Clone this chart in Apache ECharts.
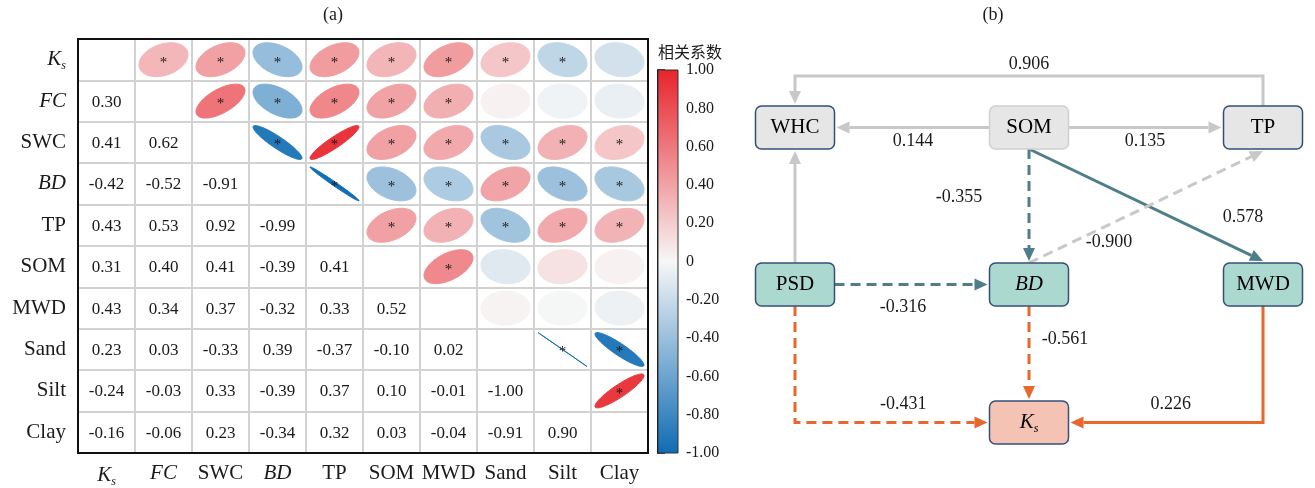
<!DOCTYPE html>
<html><head><meta charset="utf-8">
<script src="https://cdn.jsdelivr.net/npm/echarts@6/dist/echarts.min.js"></script>
<style>html,body{margin:0;padding:0;background:#fff}#c{width:1315px;height:488px}</style>
</head><body><div id="c"></div>
<script>
// ---------------- DATA ----------------
const variables = ['Ks','FC','SWC','BD','TP','SOM','MWD','Sand','Silt','Clay'];
// lower triangle correlation coefficients (row i, columns 0..i-1)
const corrLower = [
  [],
  [0.30],
  [0.41, 0.62],
  [-0.42, -0.52, -0.91],
  [0.43, 0.53, 0.92, -0.99],
  [0.31, 0.40, 0.41, -0.39, 0.41],
  [0.43, 0.34, 0.37, -0.32, 0.33, 0.52],
  [0.23, 0.03, -0.33, 0.39, -0.37, -0.10, 0.02],
  [-0.24, -0.03, 0.33, -0.39, 0.37, 0.10, -0.01, -1.00],
  [-0.16, -0.06, 0.23, -0.34, 0.32, 0.03, -0.04, -0.91, 0.90]
];
// significance flags (1 = marked with *)
const sigLower = [
  [],
  [1],
  [1, 1],
  [1, 1, 1],
  [1, 1, 1, 1],
  [1, 1, 1, 1, 1],
  [1, 1, 1, 1, 1, 1],
  [1, 0, 1, 1, 1, 0, 0],
  [1, 0, 1, 1, 1, 0, 0, 1],
  [0, 0, 1, 1, 1, 0, 0, 1, 1]
];
const colorbarTitle = '相关系数';
const panelTitles = ['(a)', '(b)'];

const pathNodes = ['WHC','SOM','TP','PSD','BD','MWD','Ks'];
const pathNodeGroup = {WHC:'water', SOM:'water', TP:'water', PSD:'struct', BD:'struct', MWD:'struct', Ks:'target'};
// [from, to, path coefficient]
const pathEdges = [
  ['TP','WHC', 0.906],
  ['SOM','WHC', 0.144],
  ['SOM','TP', 0.135],
  ['PSD','WHC', null],
  ['SOM','BD', -0.355],
  ['SOM','MWD', 0.578],
  ['BD','TP', -0.900],
  ['PSD','BD', -0.316],
  ['BD','Ks', -0.561],
  ['PSD','Ks', -0.431],
  ['MWD','Ks', 0.226]
];

// ---------------- LAYOUT / STYLE ----------------
const nodePos = {WHC:[0,0], SOM:[1,0], TP:[2,0], PSD:[0,1], BD:[1,1], MWD:[2,1], Ks:[1,1.88]};
const edgeRoute = {'TP>WHC':'over', 'PSD>Ks':'elbow', 'MWD>Ks':'elbow'};
const labelOffset = {
  'TP>WHC':[0,-12], 'SOM>WHC':[0,14], 'SOM>TP':[0,14], 'SOM>BD':[-70,-8],
  'SOM>MWD':[97,12], 'BD>TP':[-37,35], 'PSD>BD':[-8,23], 'BD>Ks':[36,-13],
  'PSD>Ks':[12,-18], 'MWD>Ks':[4,-18]
};
const groupStyle = {
  water: {fill:'#e6e6e6', stroke:'#34507a', edge:'#c8c8c8'},
  struct:{fill:'#acd9cf', stroke:'#34507a', edge:'#4e7e89'},
  target:{fill:'#f4c3b4', stroke:'#34507a', edge:'#e8672c'}
};
const nodeStrokeOverride = {SOM:'#d0d0d0'};
const colorScale = ['#0f6cb4', '#f7f7f7', '#e8232b'];

const SERIF = '"Liberation Serif","Times New Roman",serif';
const CJK = '"Noto Sans CJK SC",sans-serif';
const INK = '#1a1a1a';
const italicVars = {Ks:1, FC:1, BD:1};

function richLabel(name){
  if (name === 'Ks') return '{ki|K}{sub|s}';
  if (italicVars[name]) return '{it|' + name + '}';
  return '{n|' + name + '}';
}
function richStyles(size){
  return {
    n:{fontFamily:SERIF, fontSize:size, color:INK},
    it:{fontFamily:SERIF, fontSize:size, fontStyle:'italic', color:INK},
    ki:{fontFamily:SERIF, fontSize:size, fontStyle:'italic', color:INK},
    sub:{fontFamily:SERIF, fontSize:Math.round(size*0.55), fontStyle:'italic', color:INK, padding:[Math.round(size*0.6),0,0,0]}
  };
}

// build matrix series data
const ellipseData = [], valueData = [];
for (let i = 1; i < variables.length; i++) {
  for (let j = 0; j < i; j++) {
    valueData.push([j, i, corrLower[i][j]]);
    ellipseData.push([i, j, corrLower[i][j], sigLower[i][j]]);
  }
}

const chart = echarts.init(document.getElementById('c'), null, {renderer:'canvas'});

const HW = 39.5, HH = 21.5, GAP = 2, ARROW_L = 13, ARROW_W = 6;

function edgePoints(from, to, api){
  const a = api.coord(nodePos[from]), b = api.coord(nodePos[to]);
  const route = edgeRoute[from + '>' + to] || 'auto';
  let pts, labelSeg;
  if (route === 'over') {
    const yTop = a[1] - HH - 30;
    pts = [[a[0], a[1]-HH], [a[0], yTop], [b[0], yTop], [b[0], b[1]-HH-GAP]];
    labelSeg = 1;
  } else if (route === 'elbow') {
    const dir = b[0] > a[0] ? 1 : -1;
    pts = [[a[0], a[1]+HH], [a[0], b[1]], [b[0] - dir*(HW+GAP), b[1]]];
    labelSeg = 1;
  } else if (Math.abs(a[1]-b[1]) < 1) {
    const dir = b[0] > a[0] ? 1 : -1;
    pts = [[a[0]+dir*HW, a[1]], [b[0]-dir*(HW+GAP), b[1]]];
    labelSeg = 0;
  } else {
    const dir = b[1] > a[1] ? 1 : -1;
    pts = [[a[0], a[1]+dir*HH], [b[0], b[1]-dir*(HH+GAP)]];
    labelSeg = 0;
  }
  return {pts, labelSeg};
}

const option = {
  animation:false,
  backgroundColor:'#fff',
  graphic:[
    {type:'text', x:333, y:15, style:{text:panelTitles[0], fontFamily:SERIF, fontSize:18, fill:INK, align:'center', verticalAlign:'middle'}},
    {type:'text', x:993, y:15, style:{text:panelTitles[1], fontFamily:SERIF, fontSize:18, fill:INK, align:'center', verticalAlign:'middle'}},
    {type:'text', x:690, y:52, style:{text:colorbarTitle, fontFamily:CJK, fontSize:16, fill:INK, align:'center', verticalAlign:'middle'}}
  ],
  visualMap:{show:false, type:'continuous', min:-1, max:1, dimension:2, seriesIndex:0, inRange:{color:colorScale}},
  grid:[
    {left:78, top:39, width:570, height:414, outerBoundsMode:'none', containLabel:false},
    {left:658, top:70, width:20, height:383, outerBoundsMode:'none', containLabel:false},
    {left:795, top:127.5, width:468, height:295, outerBoundsMode:'none', containLabel:false}
  ],
  xAxis:[
    {gridIndex:0, type:'category', data:variables, position:'bottom',
     axisLine:{show:false}, axisTick:{show:false},
     splitLine:{show:true, interval:0, lineStyle:{color:'#d2d2d2', width:2}},
     axisLabel:{interval:0, margin:10, formatter:richLabel, rich:richStyles(21), hideOverlap:false}},
    {gridIndex:1, type:'value', min:0, max:1, show:false},
    {gridIndex:2, type:'value', min:0, max:2, show:false}
  ],
  yAxis:[
    {gridIndex:0, type:'category', data:variables, inverse:true,
     axisLine:{show:false}, axisTick:{show:false},
     splitLine:{show:true, interval:0, lineStyle:{color:'#d2d2d2', width:2}},
     axisLabel:{interval:0, margin:12, formatter:richLabel, rich:richStyles(21), hideOverlap:false}},
    {gridIndex:1, type:'value', min:-1, max:1, interval:0.2, position:'right',
     axisLine:{show:true, lineStyle:{color:'#111', width:2}},
     axisTick:{show:true, length:7, lineStyle:{color:'#111', width:1.5}},
     splitLine:{show:false},
     axisLabel:{margin:8, fontFamily:SERIF, fontSize:16, color:INK,
       formatter:function(v){ return Math.abs(v) < 1e-9 ? '0' : v.toFixed(2); }}},
    {gridIndex:2, type:'value', min:0, max:1.88, inverse:true, show:false}
  ],
  series:[
    { // ellipses (upper triangle)
      type:'custom', xAxisIndex:0, yAxisIndex:0, data:ellipseData, encode:{x:0, y:1}, silent:true,
      renderItem:function(params, api){
        const c = api.coord([api.value(0), api.value(1)]);
        const sz = api.size([1,1]);
        const r = api.value(2);
        const d = Math.acos(Math.max(-1, Math.min(1, r)));
        const hx = sz[0]*0.43, hy = sz[1]*0.41;
        const pts = [];
        for (let k = 0; k < 96; k++) {
          const a = k/96*Math.PI*2;
          pts.push([c[0] + hx*Math.cos(a + d/2), c[1] - hy*Math.cos(a - d/2)]);
        }
        const color = api.visual('color');
        const children = [{type:'polygon', shape:{points:pts}, style:{fill:color, stroke:color, lineWidth:1}}];
        if (api.value(3)) children.push({type:'text', x:c[0], y:c[1]+3,
          style:{text:'*', fontFamily:SERIF, fontSize:15, fill:INK, align:'center', verticalAlign:'middle'}});
        return {type:'group', children:children};
      }
    },
    { // values (lower triangle)
      type:'custom', xAxisIndex:0, yAxisIndex:0, data:valueData, encode:{x:0, y:1}, silent:true,
      renderItem:function(params, api){
        const c = api.coord([api.value(0), api.value(1)]);
        return {type:'text', x:c[0], y:c[1]+1, style:{text:api.value(2).toFixed(2), fontFamily:SERIF, fontSize:17, fill:INK, align:'center', verticalAlign:'middle'}};
      }
    },
    { // frame
      type:'custom', xAxisIndex:0, yAxisIndex:0, data:[[0,0]], silent:true, z:5,
      renderItem:function(params, api){
        const cs = params.coordSys;
        return {type:'rect', shape:{x:cs.x, y:cs.y, width:cs.width, height:cs.height}, style:{fill:'none', stroke:'#111', lineWidth:2}};
      }
    },
    { // colorbar
      type:'custom', xAxisIndex:1, yAxisIndex:1, data:[[0,0]], silent:true,
      renderItem:function(params, api){
        const cs = params.coordSys;
        const t = api.coord([0, 1]), b = api.coord([0, -1]);
        return {type:'rect', shape:{x:cs.x, y:t[1], width:cs.width, height:b[1]-t[1]},
          style:{fill:new echarts.graphic.LinearGradient(0,0,0,1,[
            {offset:0, color:colorScale[2]}, {offset:0.5, color:colorScale[1]}, {offset:1, color:colorScale[0]}]),
            stroke:'#333', lineWidth:1}};
      }
    },
    { // path edges
      type:'custom', xAxisIndex:2, yAxisIndex:2, data:pathEdges.map(function(){return [0,0];}), silent:true,
      renderItem:function(params, api){
        const e = pathEdges[params.dataIndex];
        const key = e[0] + '>' + e[1];
        const g = edgePoints(e[0], e[1], api);
        const pts = g.pts;
        const color = groupStyle[pathNodeGroup[e[1]]].edge;
        const dashed = e[2] !== null && e[2] < 0;
        const n = pts.length;
        const p = pts[n-1], q = pts[n-2];
        const len = Math.hypot(p[0]-q[0], p[1]-q[1]);
        const ux = (p[0]-q[0])/len, uy = (p[1]-q[1])/len;
        const base = [p[0]-ux*ARROW_L, p[1]-uy*ARROW_L];
        const linePts = pts.slice(0, n-1).concat([base]);
        const children = [
          {type:'polyline', shape:{points:linePts}, style:{stroke:color, lineWidth:3, fill:'none', lineDash: dashed ? [10,6] : null}},
          {type:'polygon', shape:{points:[p, [base[0]-uy*ARROW_W, base[1]+ux*ARROW_W], [base[0]+uy*ARROW_W, base[1]-ux*ARROW_W]]}, style:{fill:color}}
        ];
        if (e[2] !== null) {
          const s0 = pts[g.labelSeg], s1 = pts[g.labelSeg+1];
          const off = labelOffset[key] || [0,0];
          children.push({type:'text', x:(s0[0]+s1[0])/2 + off[0], y:(s0[1]+s1[1])/2 + off[1],
            style:{text:e[2].toFixed(3), fontFamily:SERIF, fontSize:18, fill:INK, align:'center', verticalAlign:'middle'}});
        }
        return {type:'group', children:children};
      }
    },
    { // path nodes
      type:'custom', xAxisIndex:2, yAxisIndex:2, data:pathNodes.map(function(n){return nodePos[n].slice();}), encode:{x:0, y:1}, silent:true, z:3,
      renderItem:function(params, api){
        const name = pathNodes[params.dataIndex];
        const c = api.coord([api.value(0), api.value(1)]);
        const st = groupStyle[pathNodeGroup[name]];
        return {type:'group', children:[
          {type:'rect', shape:{x:c[0]-HW, y:c[1]-HH, width:2*HW, height:2*HH, r:6},
           style:{fill:st.fill, stroke:nodeStrokeOverride[name] || st.stroke, lineWidth:1.5}},
          {type:'text', x:c[0], y:c[1], style:{text:richLabel(name), rich:richStyles(21), align:'center', verticalAlign:'middle'}}
        ]};
      }
    }
  ]
};
chart.setOption(option);
</script>
</body></html>
